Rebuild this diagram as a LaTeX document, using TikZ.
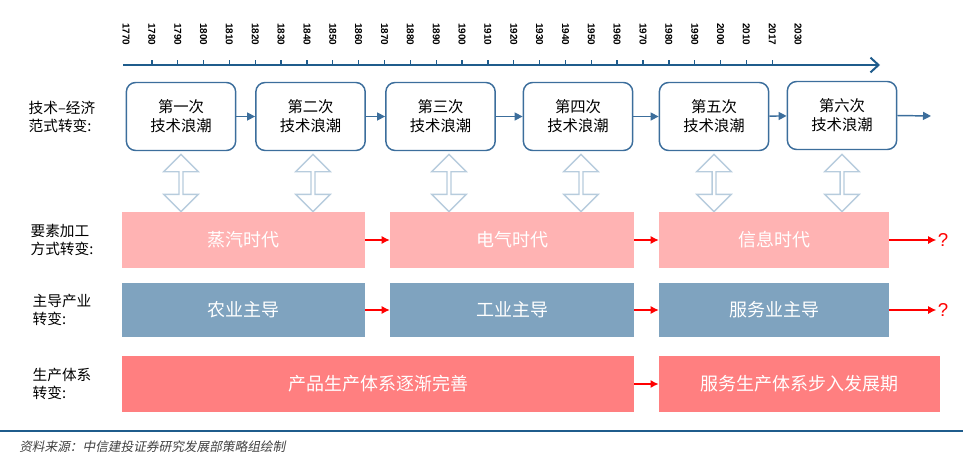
\documentclass[tikz,border=0pt]{standalone}
\usepackage{fontspec}
\setmainfont{Liberation Sans}
\newfontfamily\cjk{Noto Sans CJK SC}
\usetikzlibrary{arrows.meta,shapes.arrows}
\definecolor{axisblue}{HTML}{1F5C8C}
\definecolor{boxblue}{HTML}{3C6E9C}
\definecolor{pinkA}{HTML}{FFB3B3}
\definecolor{greyB}{HTML}{7FA3BF}
\definecolor{salmonC}{HTML}{FF7F80}
\definecolor{darrow}{HTML}{B7CCDD}
\tikzset{
 wave/.style={draw=boxblue,line width=1.1pt,rounded corners=7pt,fill=white,font=\cjk\fontsize{11.5}{14}\selectfont,align=center,inner sep=0},
 band/.style={font=\cjk\fontsize{13.5}{15}\selectfont,text=white,inner sep=0},
 rowlab/.style={font=\cjk\fontsize{11}{14}\selectfont,align=left,text=black},
 flow/.style={-{Triangle[length=6pt,width=6pt]},draw=boxblue,line width=1.1pt},
 redar/.style={-{Latex[length=6pt,width=6pt]},draw=red,line width=0.9pt},
 dbl/.style={double arrow,draw=darrow,line width=1pt,fill=white,minimum width=26pt,minimum height=43pt,double arrow head extend=4pt,double arrow tip angle=90,shape border rotate=90,inner sep=0pt},
 yr/.style={font=\bfseries\fontsize{7.5}{8}\selectfont,rotate=-90,anchor=west,inner sep=0}
}
\begin{document}
\begin{tikzpicture}[x=0.75pt,y=-0.75pt]
\useasboundingbox (0,0) rectangle (963,461);
% axis
\coordinate (ax0) at (123,65); \coordinate (ax1) at (880,65);
\draw[axisblue,line width=1.5pt,-{Straight Barb[length=6pt,width=11pt]}] (ax0) -- (ax1);
\foreach \y [count=\i from 0] in {1770,1780,1790,1800,1810,1820,1830,1840,1850,1860,1870,1880,1890,1900,1910,1920,1930,1940,1950,1960,1970,1980,1990,2000,2010,2017,2030}{
  \node[yr] (y\i) at (126+25.85*\i,23) {\y};
}
\foreach \i in {1,...,25}{\draw[axisblue,line width=1pt] (126+25.85*\i,60) -- (126+25.85*\i,65);}
% waves
\node[wave,minimum width=82pt,minimum height=51pt] (w1) at (181,116.5) {第一次\\技术浪潮};
\node[wave,minimum width=82pt,minimum height=51pt] (w2) at (310.5,116.5) {第二次\\技术浪潮};
\node[wave,minimum width=82pt,minimum height=51pt] (w3) at (440.5,116.5) {第三次\\技术浪潮};
\node[wave,minimum width=82pt,minimum height=51pt] (w4) at (578,116.5) {第四次\\技术浪潮};
\node[wave,minimum width=82pt,minimum height=51pt] (w5) at (714,116.5) {第五次\\技术浪潮};
\node[wave,minimum width=82pt,minimum height=51pt] (w6) at (842,115.5) {第六次\\技术浪潮};
\coordinate (wend) at (931,116);
\draw[flow] (w1) -- (w2); \draw[flow] (w2) -- (w3); \draw[flow] (w3) -- (w4);
\draw[flow] (w4) -- (w5); \draw[flow] (w5) -- (w6); \draw[flow] (w6.east) -- (wend);
% double arrows
\foreach \x/\n in {181/1,313/2,449/3,581/4,714/5,842/6}{\node[dbl] (d\n) at (\x,183) {};}
% row 1
\node[band,fill=pinkA,minimum width=182pt,minimum height=42pt] (a1) at (243.5,240) {蒸汽时代};
\node[band,fill=pinkA,minimum width=183pt,minimum height=42pt] (a2) at (512,240) {电气时代};
\node[band,fill=pinkA,minimum width=172.5pt,minimum height=42pt] (a3) at (774,240) {信息时代};
\node[text=red,font=\fontsize{14}{16}\selectfont,inner sep=1pt] (q1) at (943,240) {?};
\draw[redar] (a1) -- (a2); \draw[redar] (a2) -- (a3); \draw[redar] (a3) -- (q1);
% row 2
\node[band,fill=greyB,minimum width=182pt,minimum height=40.5pt] (b1) at (243.5,310) {农业主导};
\node[band,fill=greyB,minimum width=183pt,minimum height=40.5pt] (b2) at (512,310) {工业主导};
\node[band,fill=greyB,minimum width=172.5pt,minimum height=40.5pt] (b3) at (774,310) {服务业主导};
\node[text=red,font=\fontsize{14}{16}\selectfont,inner sep=1pt] (q2) at (943,310) {?};
\draw[redar] (b1) -- (b2); \draw[redar] (b2) -- (b3); \draw[redar] (b3) -- (q2);
% row 3
\node[band,fill=salmonC,minimum width=384pt,minimum height=42pt] (c1) at (378,384) {产品生产体系逐渐完善};
\node[band,fill=salmonC,minimum width=211pt,minimum height=42pt] (c2) at (799.5,384) {服务生产体系步入发展期};
\draw[redar] (c1) -- (c2);
% labels
\node[rowlab] (l0) at (62,117) {技术–经济\\范式转变:};
\node[rowlab] (l1) at (62,240) {要素加工\\方式转变:};
\node[rowlab] (l2) at (62,310) {主导产业\\转变:};
\node[rowlab] (l3) at (62,384) {生产体系\\转变:};
% footer
\draw[axisblue,line width=1pt] (0,431) -- (963,431);
\node[anchor=west,font=\cjk\fontsize{9.5}{11}\selectfont,text=black!75,xslant=0.2,inner sep=0] (src) at (20,447) {资料来源：中信建投证券研究发展部策略组绘制};
\end{tikzpicture}
\end{document}
